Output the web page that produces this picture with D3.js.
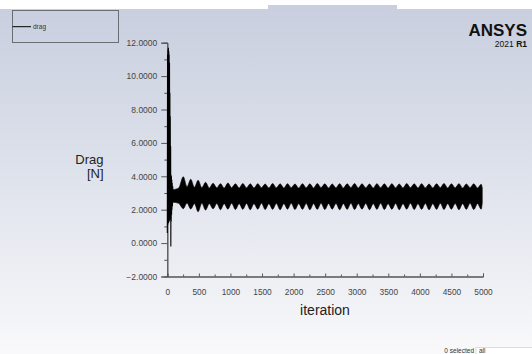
<!DOCTYPE html>
<html>
<head>
<meta charset="utf-8">
<script src="https://cdn.jsdelivr.net/npm/d3@7"></script>
<style>
  body { margin: 0; background: #fff; }
  svg { display: block; font-family: "Liberation Sans", Arial, sans-serif; }
</style>
</head>
<body>
<svg id="chart" width="532" height="354"></svg>
<script>
// start-up transient of the drag trace
var transientIter = [0, 4, 8, 11, 14, 17, 20, 23, 26, 29, 32, 35, 38, 41, 44, 47, 50, 53, 56, 59, 62, 65, 68, 71, 74, 78, 82, 86, 90];
var transientDrag = [0.6, 11.3, 1.1, 11.6, 1.3, 11.7, 1.2, 11.5, 1.4, 11.3, 1.3, 10.8, 1.5, 9.0, 1.4, 7.6, 1.6, 5.8, -0.2, 4.1, 1.3, 4.0, 1.7, 3.8, 2.0, 3.6, 2.2, 3.4, 2.5];

// settled oscillation: envelope at each swell (max) and between swells (min)
var swellIter = [253, 371, 488, 606, 725, 842, 960, 1079, 1196, 1314, 1433, 1550, 1668, 1787, 1904, 2022, 2141, 2258, 2376, 2495, 2612, 2730, 2849, 2966, 3084, 3203, 3320, 3438, 3557, 3674, 3792, 3911, 4028, 4146, 4265, 4382, 4500, 4619, 4736, 4854, 4972];
var swellTop  = [3.98, 3.82, 3.76, 3.64, 3.58, 3.56, 3.60, 3.55, 3.57, 3.55, 3.56, 3.54, 3.57, 3.55, 3.56, 3.54, 3.56, 3.55, 3.57, 3.55, 3.54, 3.56, 3.55, 3.57, 3.55, 3.54, 3.56, 3.55, 3.56, 3.54, 3.57, 3.55, 3.56, 3.54, 3.55, 3.57, 3.55, 3.56, 3.54, 3.55, 3.52];
var swellBot  = [2.06, 2.04, 1.88, 1.98, 2.05, 2.00, 2.03, 2.01, 2.02, 2.00, 2.03, 2.01, 2.02, 2.00, 2.03, 2.01, 2.02, 2.00, 2.02, 2.01, 2.03, 2.00, 2.02, 2.01, 2.03, 2.00, 2.02, 2.01, 2.02, 2.00, 2.03, 2.01, 2.02, 2.00, 2.02, 2.01, 2.03, 2.00, 2.02, 2.01, 2.03];

var neckIter = [90, 180, 312, 430, 547, 665, 784, 901, 1019, 1138, 1255, 1373, 1492, 1609, 1727, 1846, 1963, 2081, 2200, 2317, 2435, 2554, 2671, 2789, 2908, 3025, 3143, 3262, 3379, 3497, 3616, 3733, 3851, 3970, 4087, 4205, 4324, 4441, 4559, 4678, 4795, 4913, 4988];
var neckTop  = [3.20, 3.30, 3.38, 3.34, 3.32, 3.30, 3.31, 3.30, 3.32, 3.30, 3.31, 3.30, 3.32, 3.30, 3.31, 3.30, 3.32, 3.30, 3.31, 3.30, 3.32, 3.30, 3.31, 3.30, 3.32, 3.30, 3.31, 3.30, 3.32, 3.30, 3.31, 3.30, 3.32, 3.30, 3.31, 3.30, 3.32, 3.30, 3.31, 3.30, 3.32, 3.30, 3.30];
var neckBot  = [2.45, 2.38, 2.40, 2.36, 2.38, 2.36, 2.37, 2.36, 2.38, 2.36, 2.37, 2.36, 2.38, 2.36, 2.37, 2.36, 2.38, 2.36, 2.37, 2.36, 2.38, 2.36, 2.37, 2.36, 2.38, 2.36, 2.37, 2.36, 2.38, 2.36, 2.37, 2.36, 2.38, 2.36, 2.37, 2.36, 2.38, 2.36, 2.37, 2.36, 2.38, 2.36, 2.40];

var xTicks = [0, 500, 1000, 1500, 2000, 2500, 3000, 3500, 4000, 4500, 5000];
var yTicks = [-2, 0, 2, 4, 6, 8, 10, 12];

var svg = d3.select("#chart");

// background
var defs = svg.append("defs");
var grad = defs.append("linearGradient").attr("id", "bg")
  .attr("x1", 0).attr("y1", 0).attr("x2", 0).attr("y2", 1);
grad.append("stop").attr("offset", "0").attr("stop-color", "#c9cfdf");
grad.append("stop").attr("offset", "0.45").attr("stop-color", "#dde1eb");
grad.append("stop").attr("offset", "0.85").attr("stop-color", "#f1f2f6");
grad.append("stop").attr("offset", "1").attr("stop-color", "#f9f9fb");

svg.append("rect").attr("width", 532).attr("height", 354).attr("fill", "#fff");
svg.append("rect").attr("x", 0).attr("y", 9).attr("width", 532).attr("height", 345).attr("fill", "url(#bg)");
svg.append("rect").attr("x", 268).attr("y", 5).attr("width", 129).attr("height", 5).attr("fill", "#c9cfdf");

var x = d3.scaleLinear().domain([0, 5000]).range([167.3, 483]);
var y = d3.scaleLinear().domain([-2, 12]).range([276.5, 42.7]);

// axes
var yAxis = svg.append("g").attr("transform", "translate(167.3,0)")
  .call(d3.axisLeft(y).tickValues(yTicks).tickFormat(d3.format(".4f")).tickSize(6).tickPadding(4));
svg.append("g").attr("transform", "translate(167.3,0)")
  .call(d3.axisLeft(y).tickValues(d3.range(-1, 12, 2)).tickFormat("").tickSize(3));

var xAxis = svg.append("g").attr("transform", "translate(0,276.5)")
  .call(d3.axisTop(x).tickValues(xTicks).tickFormat(d3.format("d")).tickSize(3));
svg.append("g").attr("transform", "translate(0,276.5)")
  .call(d3.axisTop(x).tickValues(d3.range(250, 5000, 500)).tickFormat("").tickSize(2));

svg.selectAll(".domain").attr("stroke", "#555");
svg.selectAll(".tick line").attr("stroke", "#555");
yAxis.selectAll("text").attr("fill", "#444").style("font-size", "8.5px")
  .style("font-family", "Liberation Sans, Arial, sans-serif");
xAxis.selectAll("text").attr("fill", "#444").style("font-size", "8.3px")
  .style("font-family", "Liberation Sans, Arial, sans-serif")
  .attr("y", 18);

// settled band
var band = swellIter.map(function(d, i) { return { it: d, top: swellTop[i], bot: swellBot[i] }; })
  .concat(neckIter.map(function(d, i) { return { it: d, top: neckTop[i], bot: neckBot[i] }; }))
  .sort(function(a, b) { return a.it - b.it; });

svg.append("path")
  .datum(band)
  .attr("fill", "#000")
  .attr("stroke", "#000")
  .attr("stroke-width", 0.6)
  .attr("d", d3.area()
    .curve(d3.curveMonotoneX)
    .x(function(d) { return x(d.it); })
    .y0(function(d) { return y(d.bot); })
    .y1(function(d) { return y(d.top); }));

// transient
svg.append("path")
  .datum(transientIter.map(function(d, i) { return [d, transientDrag[i]]; }))
  .attr("fill", "none")
  .attr("stroke", "#000")
  .attr("stroke-width", 1.1)
  .attr("d", d3.line()
    .x(function(d) { return x(d[0]); })
    .y(function(d) { return y(d[1]); }));

// axis titles
svg.append("text").attr("x", 103.5).attr("y", 164).attr("text-anchor", "end")
  .style("font-size", "13px").attr("fill", "#222").text("Drag");
svg.append("text").attr("x", 103.5).attr("y", 178).attr("text-anchor", "end")
  .style("font-size", "13px").attr("fill", "#222").text("[N]");
svg.append("text").attr("x", 325).attr("y", 315).attr("text-anchor", "middle")
  .style("font-size", "14px").attr("fill", "#222").text("iteration");

// legend
svg.append("rect").attr("x", 12.5).attr("y", 10.5).attr("width", 106).attr("height", 32)
  .attr("fill", "none").attr("stroke", "#6a6d74").attr("stroke-width", 1);
svg.append("line").attr("x1", 12.5).attr("x2", 31).attr("y1", 26.7).attr("y2", 26.7)
  .attr("stroke", "#000").attr("stroke-width", 1);
svg.append("text").attr("x", 33).attr("y", 29).style("font-size", "6.5px")
  .attr("fill", "#333").text("drag");

// logo
svg.append("text").attr("x", 527).attr("y", 36).attr("text-anchor", "end")
  .style("font-size", "17px").style("font-weight", "bold").attr("fill", "#111").text("ANSYS");
var ver = svg.append("text").attr("x", 527).attr("y", 47).attr("text-anchor", "end")
  .style("font-size", "8.5px").attr("fill", "#111");
ver.append("tspan").text("2021 ");
ver.append("tspan").style("font-weight", "bold").text("R1");

// footer
svg.append("rect").attr("x", 476).attr("y", 347.5).attr("width", 60).attr("height", 10)
  .attr("fill", "#fff").attr("stroke", "#ddd");
svg.append("text").attr("x", 474).attr("y", 353).attr("text-anchor", "end")
  .style("font-size", "6.5px").attr("fill", "#333").text("0 selected");
svg.append("text").attr("x", 479).attr("y", 353).style("font-size", "6.5px")
  .attr("fill", "#333").text("all");
</script>
</body>
</html>
